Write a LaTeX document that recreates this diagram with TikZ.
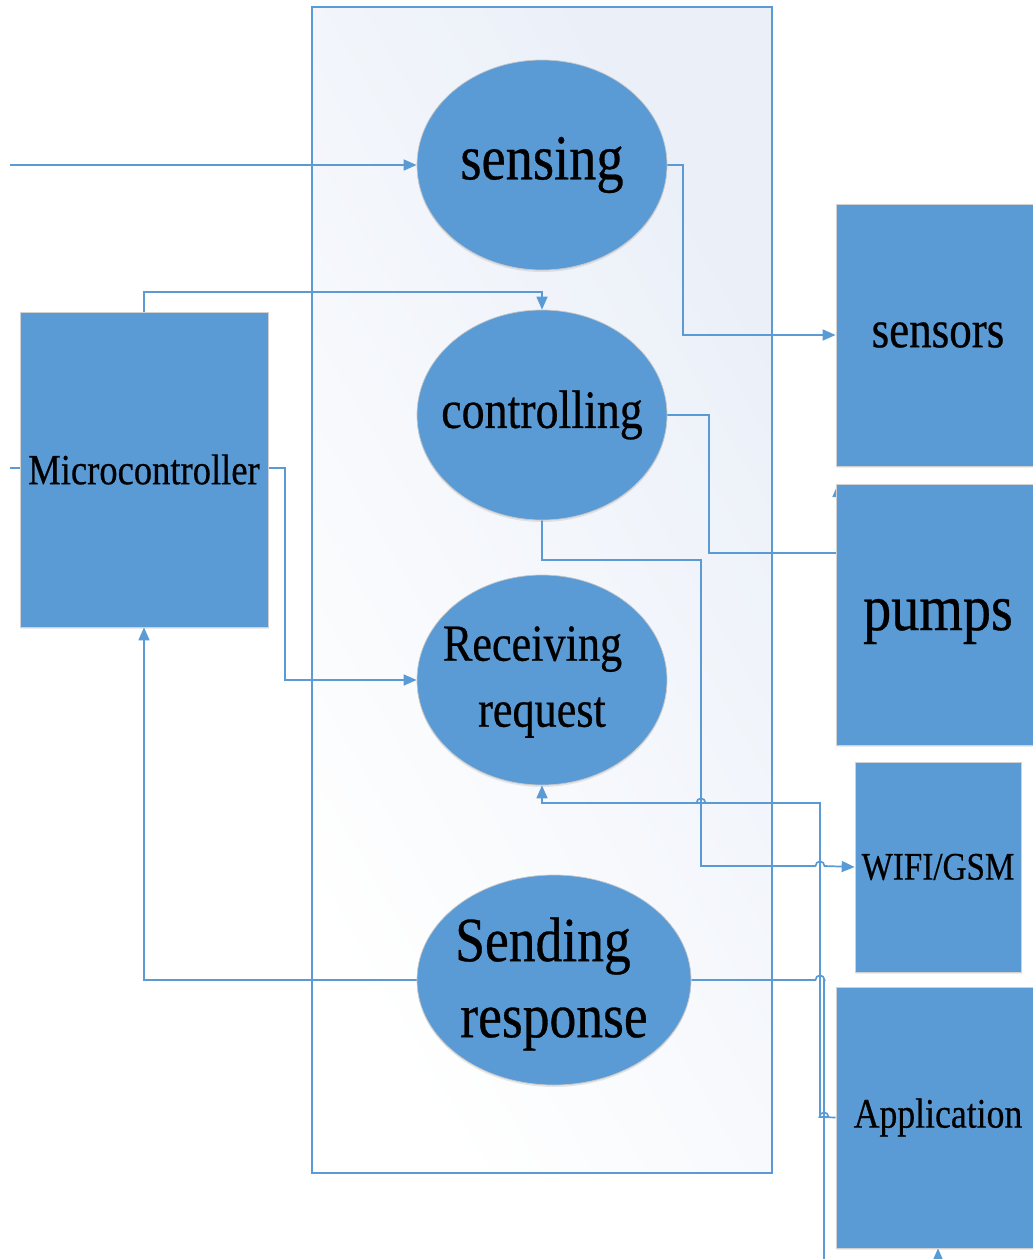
\documentclass[tikz,border=0pt]{standalone}
\usepackage{fontspec}
\setmainfont{Liberation Serif}[FakeStretch=0.85, FakeBold=0.5]
\usetikzlibrary{shapes.geometric,arrows.meta,shadows}
\definecolor{boxblue}{HTML}{5B9BD5}
\definecolor{wire}{HTML}{5B9BD5}
\definecolor{panel}{HTML}{EAEFF8}
\pgfdeclarelayer{back}
\pgfdeclarelayer{wires}
\pgfsetlayers{back,wires,main}
\tikzset{
  blob/.style={ellipse, fill=boxblue, draw=black!22, line width=0.7pt,
    minimum width=250pt, minimum height=210pt, inner sep=0pt,
    drop shadow={shadow xshift=0pt, shadow yshift=-2pt, opacity=0.18}},
  caption/.style={align=center, inner sep=0pt},
  block/.style={rectangle, fill=boxblue, draw=black!18, line width=0.7pt,
    inner sep=0pt, align=center,
    drop shadow={shadow xshift=1pt, shadow yshift=-2pt, opacity=0.15}},
  wire/.style={draw=wire, line width=1.7pt},
  flow/.style={wire, -{Triangle[length=13pt,width=11pt]}},
}
% horizontal line hopping over a vertical wire at x = #1, height #2
\newcommand{\hopat}[2]{-- (#1-4.5,#2) .. controls (#1-4.5,#2-6) and (#1+4.5,#2-6) .. (#1+4.5,#2)}
\begin{document}
\begin{tikzpicture}[x=1pt,y=-1pt]
\useasboundingbox (0,0) rectangle (1033,1259);

% the process panel
\begin{pgfonlayer}{back}
  \shade[shading=axis, left color=white, right color=panel, shading angle=120]
    (312,7) rectangle (772,1173);
  \draw[wire] (312,7) rectangle (772,1173);
\end{pgfonlayer}

% processes
\node[blob] (sense) at (542,165) {};
\node[blob] (ctrl) at (542,415) {};
\node[blob] (recv) at (542,680) {};
\node[blob, minimum width=274pt] (send) at (554,980) {};
\node[caption, font=\fontsize{64}{70}\selectfont] at (sense) {sensing};
\node[caption, font=\fontsize{54}{60}\selectfont] at (ctrl) {controlling};
\node[caption, font=\fontsize{52}{66}\selectfont] at ([yshift=-2pt]recv.center) {Receiving\hspace*{19pt}\\request};
\node[caption, font=\fontsize{63}{76}\selectfont] at ([yshift=-4pt]send.center) {Sending\hspace*{22pt}\\response};

% hardware and software blocks
\node[block, minimum width=248pt, minimum height=315pt, font=\fontsize{43}{48}\selectfont] (mcu) at (144,469.5) {Microcontroller};
\node[block, minimum width=204pt, minimum height=262pt, font=\fontsize{53}{58}\selectfont] (sensors) at (938,335) {sensors};
\node[block, minimum width=204pt, minimum height=261pt] (pumps) at (938,614.5) {};
\node[caption, font=\fontsize{66}{72}\selectfont] at ([yshift=-7pt]pumps.center) {pumps};
\node[block, minimum width=166pt, minimum height=210pt, font=\fontsize{39}{44}\selectfont] (wifi) at (938,867) {WIFI/GSM};
\node[block, minimum width=204pt, minimum height=261pt, font=\fontsize{42}{48}\selectfont] (app) at (938,1117.5) {Application};

\coordinate (inlet) at (10,165);
\coordinate (stub) at (10,468);
\coordinate (sink) at (824,1259);
\coordinate (appfeed) at (938,1275);
\coordinate (pumpfeed) at (838,530);

\begin{pgfonlayer}{wires}
  \draw[flow] (inlet) -- (sense.west);
  \draw[flow] (mcu.north) -- (144,292) -- (542,292) -- (ctrl.north);
  \draw[flow] (sense.east) -- (683,165) -- (683,335) -- (sensors.west);
  \draw[wire] (ctrl.east) -- (709,415) -- (709,553) -- (pumps.west |- 0,553);
  \draw[flow] (pumpfeed) -- (838,484);
  \draw[flow] (mcu.east |- 0,468) -- (285,468) -- (285,680) -- (recv.west);
  \draw[wire] (stub) -- (mcu.west |- stub);
  \draw[flow] (ctrl.south) -- (542,560) -- (701,560) -- (701,866) \hopat{820}{866} -- (wifi.west);
  \draw[flow] (app.west) \hopat{824}{1117} -- (820,1117) -- (820,803) \hopat{701}{803} -- (542,803) -- (recv.south);
  \draw[wire] (send.east) \hopat{820}{980} -- (824,980) -- (sink);
  \draw[flow] (appfeed) -- (app.south);
  \draw[flow] (send.west) -- (144,980) -- (mcu.south);
\end{pgfonlayer}
\end{tikzpicture}
\end{document}
